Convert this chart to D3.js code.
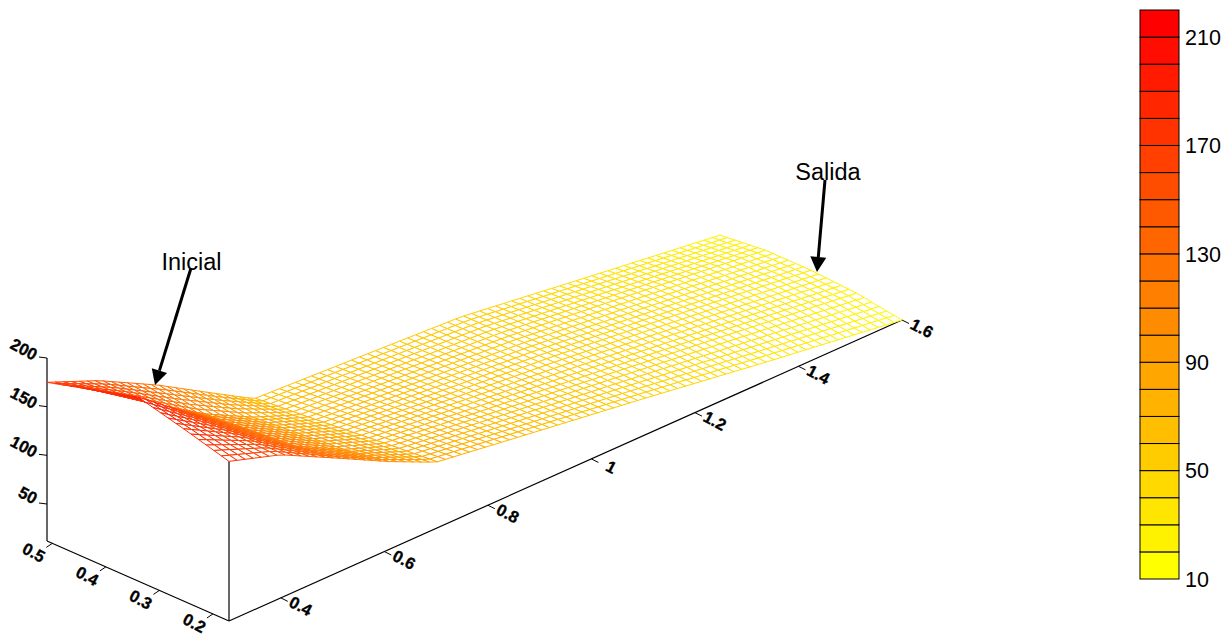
<!DOCTYPE html>
<html><head><meta charset="utf-8">
<script src="https://cdn.jsdelivr.net/npm/d3@7"></script>
<style>html,body{margin:0;background:#fff}svg{display:block}text{font-family:"Liberation Sans",Arial,sans-serif;fill:#000}</style>
</head><body><svg id="c" width="1231" height="635"></svg>
<script>
const xStations=[0.3,0.4,0.515,0.61,0.7,0.885,1.1,1.34,1.6];
const yStations=[0.17,0.255,0.34,0.425,0.51];
const zFront=[176,159,128,102,80,66,50,31,12];
const zNearFront=[189,160,120,94,76,64,51,36,19];
const zMiddle=[201,160,116,90,71.5,62,52,38,22];
const zNearBack=[188,152,112,86,67,60,52,38,22];
const zBack=[175,153,121,91,63,58,52,35,17];
const xTicks=[0.4,0.6,0.8,1,1.2,1.4,1.6];
const yTicks=[0.5,0.4,0.3,0.2];
const zTicks=[50,100,150,200];
const barTicks=[10,50,90,130,170,210];
const barLevels=d3.range(21).map(i=>10+i*10);
const notes=[{text:"Inicial",tx:191.5,ty:262,x1:191,y1:268,x2:155,y2:385},{text:"Salida",tx:828,ty:172,x1:825,y1:180,x2:817,y2:272}];

const svg=d3.select("#c");
const rows=[zFront,zNearFront,zMiddle,zNearBack,zBack];
const sx=d3.scaleLinear([0.3,1.6],[0,673]);
const sxV=d3.scaleLinear([0.3,1.6],[0,-301]);
const sy=d3.scaleLinear([0.17,0.51],[0,-182]);
const syV=d3.scaleLinear([0.17,0.51],[0,-80]);
const sz=d3.scaleLinear([12,200],[0,-183]);
const P=(x,y,z)=>[229+sx(x)+sy(y),621+sxV(x)+syV(y)+sz(z)];
const rowFn=rows.map(r=>d3.scaleLinear(xStations,r));
const surf=(x,y)=>d3.scaleLinear(yStations,rowFn.map(f=>f(x)))(y);
const color=d3.scaleLinear([10,220],["#ffff00","#ff0000"]).clamp(true);
const barColor=d3.scaleLinear([10,210],["#ffff00","#ff0000"]);

const box=[[[0.3,0.17,12],[0.3,0.51,12]],[[0.3,0.17,12],[1.6,0.17,12]],[[0.3,0.17,12],[0.3,0.17,surf(0.3,0.17)]],[[0.3,0.51,12],[0.3,0.51,200]]];
const lineG=svg.append("g").attr("stroke","#000").attr("stroke-width",1.2).attr("fill","none");
box.forEach(b=>lineG.append("path").attr("d",d3.line()(b.map(p=>P(...p)))));

const nx=84,ny=24;
const xs=d3.range(nx+1).map(d3.scaleLinear([0,nx],[0.3,1.6]));
const ys=d3.range(ny+1).map(d3.scaleLinear([0,ny],[0.17,0.51]));
const meshG=svg.append("g").attr("stroke-width",1).attr("stroke-linejoin","round");
for(let j=ny-1;j>=0;j--)for(let i=nx-1;i>=0;i--){
  const c=[[xs[i],ys[j]],[xs[i+1],ys[j]],[xs[i+1],ys[j+1]],[xs[i],ys[j+1]]];
  const zz=c.map(q=>surf(q[0],q[1]));
  meshG.append("path").attr("d",d3.line()(c.map((q,k)=>P(q[0],q[1],zz[k])))+"Z")
    .attr("fill","#fff").attr("stroke",color(d3.mean(zz)));
}

const tickG=svg.append("g").attr("stroke","#000").attr("stroke-width",1);
const lab=(x,y,t)=>svg.append("text").attr("transform",`translate(${x},${y}) rotate(28)`).attr("text-anchor","middle").attr("dominant-baseline","central").attr("font-size",16.5).attr("font-weight","bold").attr("stroke","#000").attr("stroke-width",0.35).text(t);
xTicks.forEach(t=>{const p=P(t,0.17,12);tickG.append("line").attr("x1",p[0]).attr("y1",p[1]).attr("x2",p[0]+7).attr("y2",p[1]+3.5);lab(p[0]+20,p[1]+8,t);});
yTicks.forEach(t=>{const p=P(0.3,t,12);tickG.append("line").attr("x1",p[0]).attr("y1",p[1]).attr("x2",p[0]-6).attr("y2",p[1]+4);lab(p[0]-18.5,p[1]+9,t);});
zTicks.forEach(t=>{const p=P(0.3,0.51,t);tickG.append("line").attr("x1",p[0]).attr("y1",p[1]).attr("x2",p[0]-8).attr("y2",p[1]-1);lab(p[0]-(t<100?19:23),p[1]-9,t);});

const by=d3.scaleLinear([10,220],[579,10]);
const barX=1140,barW=39;
barLevels.forEach(v=>svg.append("rect").attr("x",barX).attr("width",barW).attr("y",by(v+10)).attr("height",by(v)-by(v+10))
  .attr("fill",barColor(v)).attr("stroke","#000").attr("stroke-width",1));
barTicks.forEach(t=>svg.append("text").attr("x",1185).attr("y",by(t)).attr("dy","0.36em").attr("font-size",21.5).text(t));

notes.forEach(n=>{
  svg.append("text").attr("x",n.tx).attr("y",n.ty).attr("text-anchor","middle").attr("dominant-baseline","central").attr("font-size",23.5).text(n.text);
  const a=Math.atan2(n.y2-n.y1,n.x2-n.x1),L=15,W=8;
  const bx=n.x2-L*Math.cos(a),by2=n.y2-L*Math.sin(a);
  svg.append("line").attr("x1",n.x1).attr("y1",n.y1).attr("x2",bx).attr("y2",by2).attr("stroke","#000").attr("stroke-width",3);
  svg.append("path").attr("fill","#000").attr("d",d3.line()([[n.x2,n.y2],[bx-W*Math.sin(a),by2+W*Math.cos(a)],[bx+W*Math.sin(a),by2-W*Math.cos(a)]])+"Z");
});
</script></body></html>
